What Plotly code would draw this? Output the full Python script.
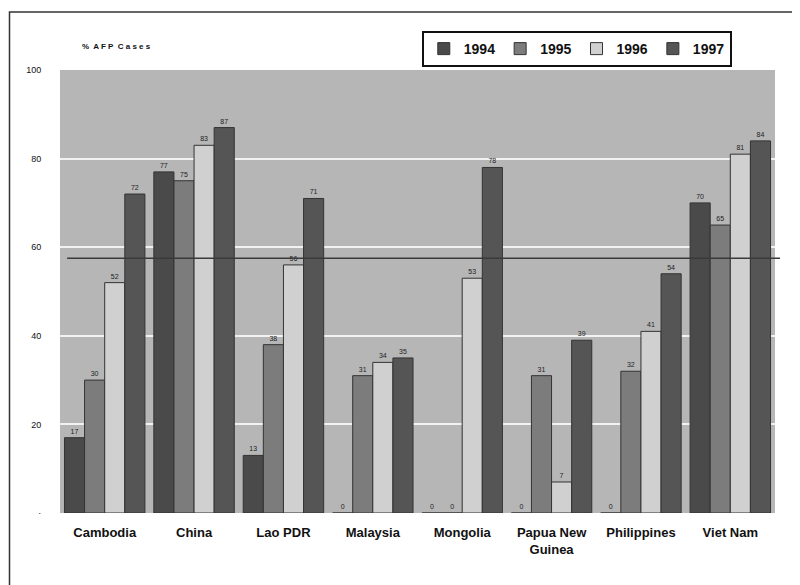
import plotly.graph_objects as go

countries = ["Cambodia", "China", "Lao PDR", "Malaysia", "Mongolia",
             "Papua New<br>Guinea", "Philippines", "Viet Nam"]
years = ["1994", "1995", "1996", "1997"]
v1994 = [17, 77, 13, 0, 0, 0, 0, 70]
v1995 = [30, 75, 38, 31, 0, 31, 32, 65]
v1996 = [52, 83, 56, 34, 53, 7, 41, 81]
v1997 = [72, 87, 71, 35, 78, 39, 54, 84]
series = [v1994, v1995, v1996, v1997]
target_line = 57.5
y_ticks = [0, 20, 40, 60, 80, 100]
y_ticktext = ["·", "20", "40", "60", "80", "100"]

colors = ["#4a4a4a", "#7c7c7c", "#d0d0d0", "#555555"]

fig = go.Figure()
for name, vals, col in zip(years, series, colors):
    fig.add_trace(go.Bar(
        x=countries, y=vals, name="<b>" + name + "</b>",
        marker=dict(color=col, line=dict(color="#333333", width=1)),
        text=[str(v) for v in vals], textposition="outside",
        textfont=dict(size=7, color="#222222", family="Liberation Sans"),
        cliponaxis=False,
    ))

fig.add_shape(type="line", xref="paper", yref="y", x0=0.01, x1=1.007,
              y0=target_line, y1=target_line,
              line=dict(color="#3a3a3a", width=1.5))
# outer frame
fig.add_shape(type="rect", xref="paper", yref="paper",
              x0=-50.5 / 715, x1=1.2, y0=-0.17, y1=1.131,
              line=dict(color="#333333", width=1.5), layer="below")

fig.add_annotation(text="<b>%  A F P  C a s e s</b>", xref="paper", yref="paper",
                   x=0.028, y=1.052, xanchor="left", yanchor="middle",
                   showarrow=False,
                   font=dict(size=8, color="#111111", family="Liberation Sans"))

fig.update_layout(
    width=792, height=577,
    margin=dict(l=52, r=25, t=62, b=72),
    paper_bgcolor="white", plot_bgcolor="#b6b6b6",
    barmode="group", bargap=0.1, bargroupgap=0,
    font=dict(family="Liberation Sans", color="#111111"),
    legend=dict(orientation="h", x=0.506, y=1.088, xanchor="left", yanchor="top",
                bordercolor="#111111", borderwidth=2, bgcolor="white",
                font=dict(size=14, family="Liberation Sans Narrow, Liberation Sans"),
                itemwidth=30, tracegroupgap=0),
    showlegend=True,
)
fig.update_xaxes(showgrid=False, showline=False, ticks="", automargin=False,
                 tickfont=dict(size=13, family="Liberation Sans Narrow, Liberation Sans",
                               color="#111111"),
                 ticklabelstandoff=10)
fig.update_yaxes(range=[0, 100], tickvals=y_ticks, ticktext=y_ticktext,
                 showgrid=True, gridcolor="#f2f2f2", gridwidth=1.5,
                 zeroline=False, showline=False, automargin=False,
                 ticks="outside", ticklen=16, tickcolor="white",
                 tickfont=dict(size=9, family="Liberation Sans", color="#111111"))
fig.for_each_xaxis(lambda a: a.update(tickprefix="<b>", ticksuffix="</b>"))
fig.for_each_yaxis(lambda a: a.update(tickprefix="<b>", ticksuffix="</b>"))

fig.write_html("out.html")
